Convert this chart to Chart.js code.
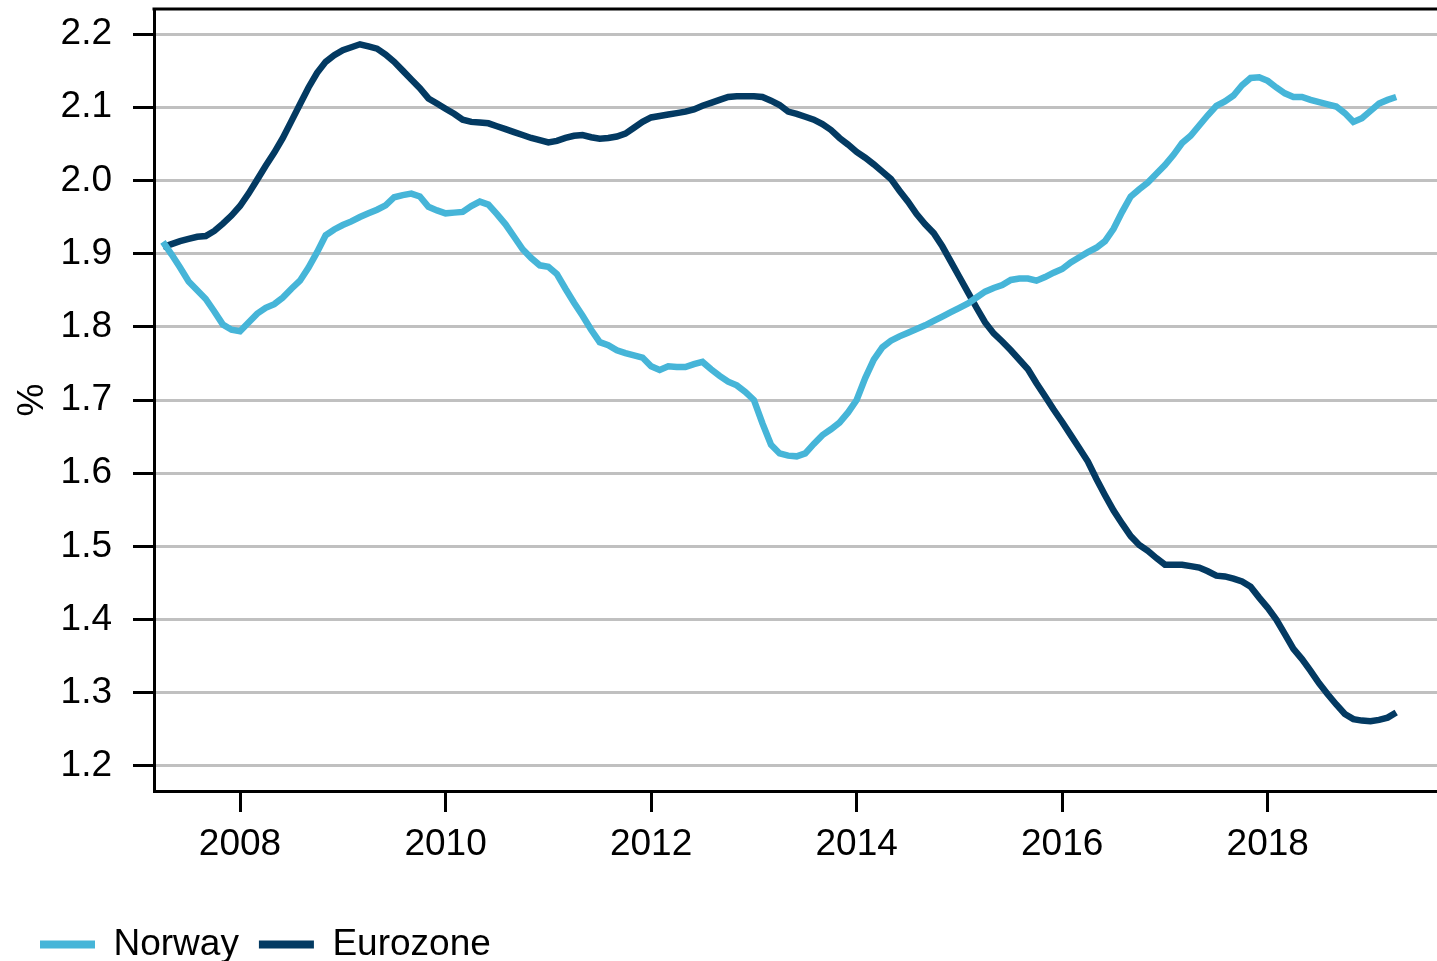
<!DOCTYPE html>
<html lang="en">
<head>
<meta charset="UTF-8">
<title>Norway vs Eurozone</title>
<script src="https://cdn.jsdelivr.net/npm/chart.js"></script>
<style>
  html, body { margin: 0; padding: 0; background: #fff; overflow: hidden; }
  .grafico { position: relative; width: 1437px; height: 973px; }
</style>
</head>
<body>
<div class="grafico"><canvas id="myChart"></canvas></div>

<script>
// monthly values, first observation April 2007
const norway = [
  1.916, 1.899, 1.881, 1.862, 1.850, 1.838, 1.821, 1.803, 1.796, 1.794,
  1.806, 1.818, 1.826, 1.831, 1.840, 1.852, 1.863, 1.881, 1.902, 1.925,
  1.933, 1.939, 1.944, 1.950, 1.955, 1.960, 1.966, 1.977, 1.980, 1.982,
  1.978, 1.964, 1.959, 1.955, 1.956, 1.957, 1.965, 1.971, 1.967, 1.954,
  1.940, 1.923, 1.906, 1.894, 1.884, 1.882, 1.872, 1.852, 1.833, 1.815,
  1.796, 1.779, 1.775, 1.768, 1.764, 1.761, 1.758, 1.746, 1.741, 1.746,
  1.745, 1.745, 1.749, 1.752, 1.742, 1.733, 1.725, 1.720, 1.711, 1.700,
  1.668, 1.639, 1.627, 1.624, 1.623, 1.627, 1.640, 1.652, 1.660, 1.669,
  1.683, 1.700, 1.730, 1.755, 1.772, 1.781, 1.787, 1.792, 1.797, 1.802,
  1.808, 1.814, 1.820, 1.826, 1.832, 1.840, 1.848, 1.853, 1.857, 1.864,
  1.866, 1.866, 1.863, 1.868, 1.874, 1.879, 1.888, 1.895, 1.902, 1.908,
  1.917, 1.934, 1.957, 1.978, 1.988, 1.997, 2.009, 2.021, 2.035, 2.051,
  2.061, 2.075, 2.089, 2.102, 2.108, 2.116, 2.130, 2.140, 2.141, 2.136,
  2.127, 2.119, 2.114, 2.114, 2.110, 2.107, 2.104, 2.101, 2.092, 2.080,
  2.085, 2.095, 2.105, 2.110, 2.114
];
const eurozone = [
  1.909, 1.913, 1.917, 1.920, 1.923, 1.924, 1.931, 1.941, 1.952, 1.965,
  1.982, 2.001, 2.020, 2.038, 2.058, 2.081, 2.104, 2.127, 2.147, 2.162,
  2.171, 2.178, 2.182, 2.186, 2.183, 2.180, 2.172, 2.162, 2.150, 2.138,
  2.126, 2.112, 2.105, 2.098, 2.091, 2.083, 2.080, 2.079, 2.078, 2.074,
  2.070, 2.066, 2.062, 2.058, 2.055, 2.052, 2.054, 2.058, 2.061, 2.062,
  2.059, 2.057, 2.058, 2.060, 2.064, 2.072, 2.080, 2.086, 2.088, 2.090,
  2.092, 2.094, 2.097, 2.102, 2.106, 2.110, 2.114, 2.115, 2.115, 2.115,
  2.114, 2.109, 2.103, 2.094, 2.091, 2.087, 2.083, 2.077, 2.069, 2.058,
  2.049, 2.039, 2.031, 2.022, 2.012, 2.002, 1.986, 1.971, 1.954, 1.940,
  1.928, 1.910, 1.889, 1.868, 1.847, 1.826, 1.806, 1.791, 1.780, 1.768,
  1.755, 1.742, 1.723, 1.705, 1.687, 1.670, 1.652, 1.634, 1.616, 1.592,
  1.570, 1.549, 1.531, 1.514, 1.502, 1.494, 1.484, 1.475, 1.475, 1.475,
  1.473, 1.471, 1.466, 1.460, 1.459, 1.456, 1.452, 1.445, 1.430, 1.416,
  1.400, 1.380, 1.360, 1.346, 1.330, 1.313, 1.298, 1.284, 1.271, 1.264,
  1.262, 1.261, 1.263, 1.266, 1.273
];
const yearTicks = [2008, 2010, 2012, 2014, 2016, 2018];
const valueTicks = [1.2, 1.3, 1.4, 1.5, 1.6, 1.7, 1.8, 1.9, 2.0, 2.1, 2.2];

const firstYear = 2007;
const firstMonth = 4;
const months = norway.map((_, i) => firstYear + (firstMonth - 1 + i) / 12);

const fonte = 'Liberation Sans, Arial, Helvetica, sans-serif';
Chart.defaults.font.family = fonte;
Chart.defaults.font.size = 37;
Chart.defaults.color = '#000';

// top frame line of the plot
const bordaTopo = {
    id: 'bordaTopo',
    afterDraw(chart) {
        const { ctx, chartArea } = chart;
        ctx.save();
        ctx.strokeStyle = '#000';
        ctx.lineWidth = 3;
        ctx.beginPath();
        ctx.moveTo(chartArea.left - 1.5, chartArea.top);
        ctx.lineTo(chartArea.right, chartArea.top);
        ctx.stroke();
        ctx.restore();
    }
};

function pontos(valores) {
    return valores.map((v, i) => ({ x: months[i], y: v }));
}

const ctx = document.getElementById('myChart');

new Chart(ctx, {
    type: 'line',
    data: {
        datasets: [{
            label: 'Norway',
            data: pontos(norway),
            borderColor: '#46b5d8',
            backgroundColor: '#46b5d8',
            borderWidth: 6.5,
            pointRadius: 0,
            tension: 0
        }, {
            label: 'Eurozone',
            data: pontos(eurozone),
            borderColor: '#033a62',
            backgroundColor: '#033a62',
            borderWidth: 6.5,
            pointRadius: 0,
            tension: 0
        }]
    },
    options: {
        responsive: true,
        maintainAspectRatio: false,
        animation: false,
        layout: { padding: { top: 9, left: 20, right: 0, bottom: 0 } },
        plugins: {
            tooltip: { enabled: false },
            legend: {
                position: 'bottom',
                align: 'start',
                labels: {
                    boxWidth: 55,
                    boxHeight: 8,
                    padding: 20,
                    color: '#000',
                    font: { size: 37 },
                    generateLabels: chart => Chart.defaults.plugins.legend.labels.generateLabels(chart)
                        .map(l => ({ ...l, lineWidth: 0, fillStyle: l.strokeStyle }))
                }
            }
        },
        scales: {
            x: {
                type: 'linear',
                min: 2007.163,
                max: 2019.647,
                afterBuildTicks: scale => { scale.ticks = yearTicks.map(v => ({ value: v })); },
                afterFit: scale => {
                    scale.height = 115;
                    scale.paddingLeft = 0;
                    scale.paddingRight = 0;
                },
                grid: {
                    drawOnChartArea: false,
                    drawTicks: true,
                    tickLength: 21,
                    tickWidth: 3,
                    tickColor: '#000'
                },
                border: { display: true, color: '#000', width: 3 },
                ticks: {
                    padding: 11,
                    maxRotation: 0,
                    color: '#000',
                    font: { size: 37 },
                    callback: v => String(v)
                }
            },
            y: {
                min: 1.1658,
                max: 2.2342,
                afterBuildTicks: scale => { scale.ticks = valueTicks.map(v => ({ value: v })); },
                afterFit: scale => {
                    scale.width = 134;
                    scale.paddingTop = 0;
                    scale.paddingBottom = 0;
                },
                grid: {
                    color: '#c0c0c0',
                    lineWidth: 3,
                    drawTicks: true,
                    tickLength: 21,
                    tickWidth: 3,
                    tickColor: '#000'
                },
                border: { display: true, color: '#000', width: 3 },
                ticks: {
                    padding: 21,
                    color: '#000',
                    font: { size: 37 },
                    callback: v => Number(v).toFixed(1)
                },
                title: {
                    display: true,
                    text: '%',
                    color: '#000',
                    font: { size: 37 },
                    padding: { top: -9, bottom: 0 }
                }
            }
        }
    },
    plugins: [bordaTopo]
});
</script>
</body>
</html>
